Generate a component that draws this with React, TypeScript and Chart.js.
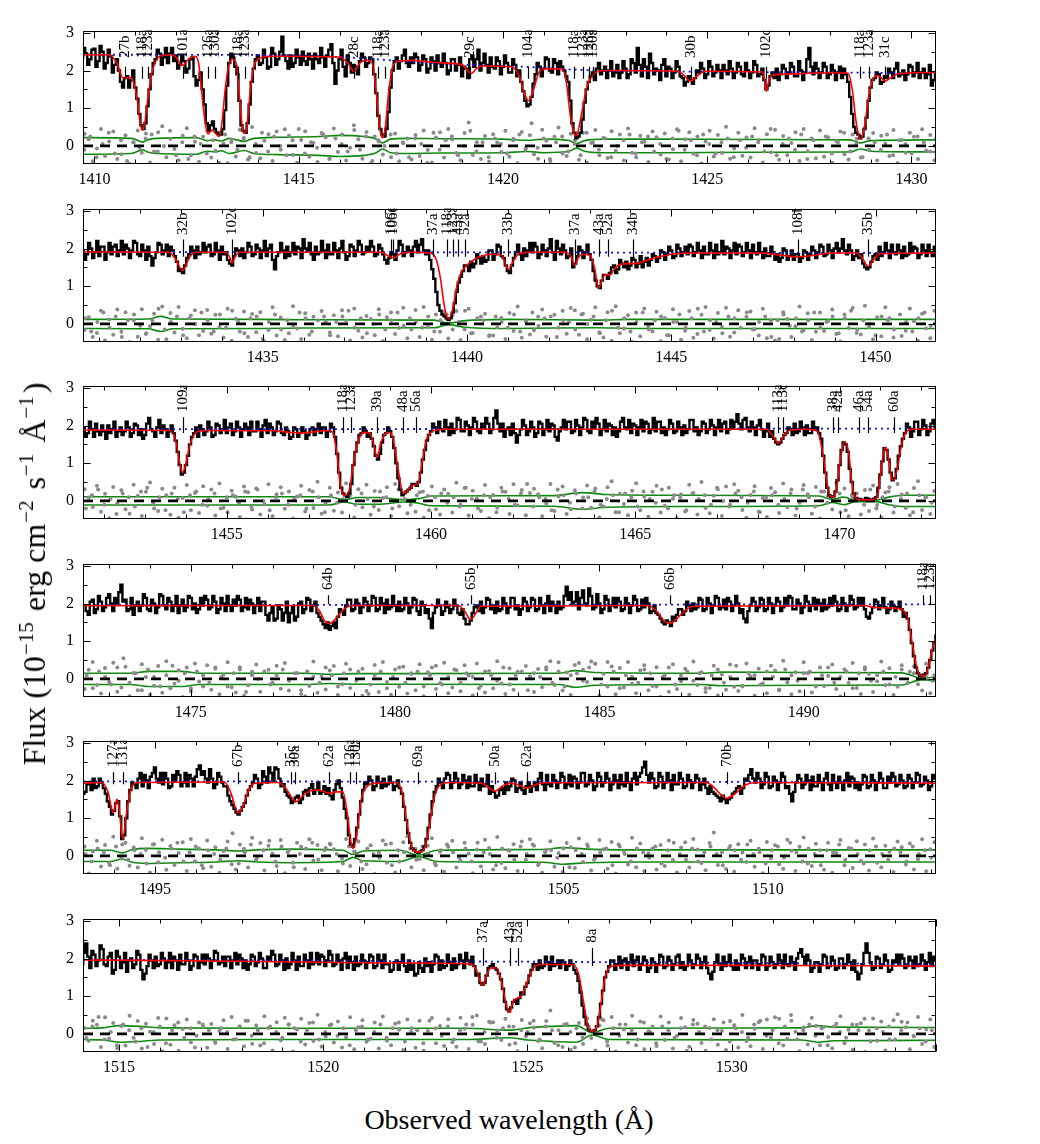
import React, { useEffect, useRef } from "react";
import { Chart, registerables } from "chart.js";
Chart.register(...registerables);

const FAMILY = "'Liberation Serif', 'Times New Roman', serif";
Chart.defaults.font.family = FAMILY;

// ---------- axes / ranges ----------
const PANEL_MIN = [1409.72, 1430.6, 1451.48, 1472.36, 1493.24, 1514.12];
const PANEL_SPAN = 20.88;
const X_TICKS = [
  [1410, 1415, 1420, 1425, 1430],
  [1435, 1440, 1445, 1450],
  [1455, 1460, 1465, 1470],
  [1475, 1480, 1485, 1490],
  [1495, 1500, 1505, 1510],
  [1515, 1520, 1525, 1530],
];
const Y_MIN = -0.48;
const Y_MAX = 3.06;
const Y_TICKS = [0, 1, 2, 3];

// ---------- observed flux: bins at start + 0.1*i ("flux") and start + 0.05 + 0.1*i ("half") ----------
const FLUX_START = [1409.7, 1430.6, 1451.5, 1472.4, 1493.2, 1514.1];
const FLUX_STEP = 0.1;

const flux1 = [2.35,
  2.45, 2.30, 2.58, 2.25, 2.50, 2.20, 2.38, 2.15, 2.00, 1.55,
  1.85, 1.75, 1.55, 0.85, 0.45, 1.05, 1.90, 2.30, 2.45, 2.35,
  2.20, 2.60, 2.40, 2.15, 2.25, 2.05, 2.35, 1.60, 1.95, 1.10,
  0.40, 0.65, 0.35, 0.30, 0.95, 2.20, 2.35, 1.90, 0.55, 0.35,
  1.10, 2.05, 2.40, 2.20, 2.35, 2.10, 2.45, 2.30, 2.90, 2.25,
  2.40, 2.20, 2.35, 2.50, 2.15, 2.30, 2.45, 2.20, 2.35, 2.40,
  2.70, 1.65, 2.30, 2.10, 2.40, 1.95, 2.10, 2.25, 2.35, 2.20,
  2.30, 1.40, 0.45, 0.25, 0.90, 2.00, 2.35, 2.25, 2.55, 2.10,
  2.20, 2.35, 2.15, 2.30, 2.05, 2.25, 2.40, 2.10, 2.20, 2.00,
  2.30, 2.15, 1.85, 2.05, 2.30, 2.10, 2.55, 2.20, 2.15, 2.35,
  2.05, 2.25, 2.10, 2.20, 1.95, 2.15, 2.00, 1.45, 1.05, 1.30,
  1.90, 2.10, 2.05, 2.30, 1.95, 2.20, 2.25, 2.00, 1.70, 0.60,
  0.20, 0.35, 1.15, 1.70, 1.95, 2.05, 1.90, 2.10, 2.00, 1.85,
  2.15, 1.95, 2.05, 1.90, 2.20, 2.60, 1.85, 2.10, 2.45, 1.90,
  2.00, 2.15, 1.85, 2.05, 1.95, 2.10, 1.80, 1.70, 1.75, 1.80,
  1.95, 2.05, 1.90, 2.10, 1.95, 2.00, 2.15, 1.90, 2.05, 1.95,
  2.10, 1.85, 2.00, 1.95, 2.15, 1.90, 1.75, 1.60, 1.95, 2.05,
  1.90, 2.05, 1.95, 2.10, 1.85, 2.00, 1.95, 2.60, 1.90, 2.05,
  1.95, 2.10, 1.90, 2.00, 1.95, 1.80, 1.90, 1.30, 0.50, 0.30,
  0.25, 0.75, 1.55, 1.80, 1.90, 1.70, 1.80, 1.95, 2.05, 1.85,
  2.00, 1.90, 2.10, 1.95, 1.80, 2.05, 1.90, 1.60, 1.95];
const half1 = [2.60,
  2.15, 2.55, 2.10, 2.65, 2.05, 2.55, 1.95, 2.30, 1.70, 1.80,
  1.55, 2.00, 1.25, 0.55, 0.60, 1.50, 2.20, 2.55, 2.15, 2.60,
  2.45, 2.25, 2.05, 2.40, 1.95, 2.30, 1.85, 1.75, 1.50, 0.60,
  0.55, 0.45, 0.30, 0.45, 1.60, 2.45, 2.10, 1.20, 0.40, 0.60,
  1.70, 2.30, 2.15, 2.55, 2.05, 2.60, 2.15, 2.50, 2.40, 2.05,
  2.10, 2.55, 2.15, 2.25, 2.45, 2.05, 2.30, 2.60, 2.10, 2.55,
  2.20, 2.00, 2.55, 1.85, 2.20, 2.15, 1.90, 2.45, 2.10, 2.35,
  1.90, 0.80, 0.30, 0.45, 1.55, 2.25, 2.05, 2.40, 2.20, 2.35,
  2.45, 2.00, 2.40, 1.95, 2.35, 2.00, 2.20, 2.45, 1.90, 2.30,
  2.00, 2.35, 2.10, 1.80, 2.40, 2.30, 2.00, 2.45, 1.95, 2.10,
  2.35, 1.90, 2.40, 1.95, 2.30, 1.85, 1.70, 1.20, 1.10, 1.65,
  2.20, 1.85, 2.35, 2.00, 2.30, 1.90, 2.10, 1.85, 1.20, 0.35,
  0.25, 0.70, 1.50, 1.85, 1.75, 2.20, 2.00, 1.80, 2.25, 1.95,
  1.80, 2.25, 1.80, 2.30, 1.95, 2.15, 2.30, 1.80, 2.20, 2.05,
  1.75, 2.30, 2.10, 1.80, 2.25, 1.85, 1.60, 1.85, 1.65, 2.00,
  2.20, 1.80, 2.25, 1.85, 2.15, 1.80, 2.00, 2.25, 1.80, 2.20,
  1.90, 2.20, 1.80, 2.25, 1.85, 2.05, 1.50, 1.85, 1.80, 1.75,
  2.15, 1.80, 2.20, 1.85, 2.25, 1.75, 2.30, 2.10, 2.20, 1.80,
  2.20, 1.80, 2.15, 1.75, 2.10, 2.05, 1.70, 0.85, 0.35, 0.20,
  0.45, 1.20, 1.75, 1.95, 1.65, 1.85, 2.05, 1.80, 2.20, 1.90,
  1.75, 2.15, 1.85, 2.20, 1.95, 1.80, 2.15, 1.75, 2.05];

const flux2 = [
  1.95, 1.85, 2.00, 1.90, 1.80, 2.05, 1.90, 1.85, 2.10, 1.95,
  1.85, 2.00, 1.95, 2.15, 1.80, 1.95, 2.05, 1.55, 1.90, 2.10,
  1.95, 1.80, 1.95, 1.65, 1.45, 1.55, 1.85, 1.95, 2.05, 1.90,
  1.90, 2.10, 1.85, 1.95, 2.05, 1.90, 1.60, 1.80, 1.95, 2.00,
  1.90, 2.05, 1.85, 2.00, 1.95, 1.80, 2.10, 1.45, 1.90, 1.95,
  2.05, 1.90, 1.85, 2.00, 2.25, 1.95, 1.85, 2.05, 1.90, 1.95,
  2.10, 1.85, 1.95, 2.00, 1.90, 1.80, 2.05, 1.95, 2.10, 1.90,
  1.95, 2.05, 1.85, 2.00, 1.70, 1.75, 1.85, 1.95, 2.10, 1.90,
  1.95, 2.05, 1.90, 2.25, 1.85, 1.70, 1.20, 0.50, 0.25, 0.15,
  0.15, 0.55, 1.10, 1.40, 1.55, 1.65, 1.60, 1.75, 1.80, 1.70,
  1.95, 1.85, 2.05, 1.75, 1.40, 1.55, 1.90, 1.85, 2.00, 1.95,
  1.90, 2.05, 1.85, 1.95, 2.00, 1.90, 2.20, 1.85, 1.95, 1.80,
  1.50, 1.80, 1.95, 1.90, 1.85, 1.40, 1.00, 1.15, 1.30, 1.35,
  1.55, 1.45, 1.60, 1.65, 1.55, 1.70, 1.60, 1.50, 1.75, 1.70,
  1.80, 1.75, 1.90, 1.85, 1.95, 1.80, 2.00, 1.90, 1.85, 2.05,
  1.90, 1.95, 2.05, 1.85, 1.95, 2.10, 1.90, 1.85, 2.00, 1.95,
  1.85, 2.05, 1.90, 1.95, 2.10, 1.85, 1.90, 2.00, 1.80, 1.90,
  1.85, 1.75, 1.95, 1.80, 1.70, 1.85, 1.75, 1.90, 1.85, 1.95,
  1.90, 2.05, 1.85, 1.95, 2.00, 1.90, 2.25, 1.85, 1.95, 1.80,
  1.75, 1.60, 1.45, 1.65, 1.85, 2.05, 1.90, 1.95, 2.10, 1.85,
  1.95, 2.05, 1.85, 1.90, 2.00, 1.85, 1.95, 2.10, 1.80, 1.90];
const half2 = [
  1.70, 2.15, 1.75, 2.20, 2.05, 1.70, 2.15, 2.05, 1.80, 2.20,
  2.10, 1.75, 2.20, 1.85, 2.10, 1.70, 1.80, 1.75, 2.15, 1.85,
  2.10, 2.05, 1.80, 1.40, 1.35, 1.75, 2.05, 1.75, 1.85, 2.15,
  2.05, 1.80, 2.15, 1.70, 1.85, 1.70, 1.55, 2.00, 1.80, 1.75,
  2.15, 1.80, 2.10, 1.75, 2.20, 2.00, 1.70, 1.80, 2.15, 1.75,
  1.80, 2.15, 2.05, 1.75, 2.00, 2.15, 1.70, 1.85, 2.20, 1.75,
  1.85, 2.15, 1.75, 2.20, 1.70, 2.10, 1.80, 2.20, 1.85, 2.05,
  2.20, 1.80, 2.10, 1.85, 1.60, 1.90, 1.70, 2.20, 1.80, 2.05,
  1.80, 2.20, 2.10, 1.95, 1.95, 1.45, 0.85, 0.35, 0.20, 0.10,
  0.30, 0.85, 1.25, 1.55, 1.40, 1.50, 1.85, 1.60, 1.65, 1.95,
  1.70, 2.10, 1.80, 1.55, 1.35, 1.75, 2.10, 1.70, 1.80, 2.15,
  2.15, 1.75, 2.10, 1.80, 2.25, 1.70, 2.00, 2.10, 1.75, 2.00,
  1.60, 2.05, 1.75, 2.10, 1.70, 1.15, 0.95, 1.30, 1.20, 1.50,
  1.35, 1.70, 1.50, 1.45, 1.75, 1.50, 1.80, 1.65, 1.55, 1.85,
  1.65, 1.95, 1.70, 2.05, 1.75, 2.10, 1.80, 2.05, 2.10, 1.80,
  2.15, 1.75, 1.85, 2.15, 1.75, 1.85, 2.20, 2.05, 1.75, 2.15,
  2.10, 1.80, 2.15, 1.75, 1.90, 2.15, 1.75, 1.80, 2.05, 1.70,
  1.65, 2.00, 1.70, 1.95, 1.85, 1.65, 1.95, 1.70, 2.05, 1.75,
  2.10, 1.80, 2.10, 1.75, 2.15, 2.00, 1.95, 2.10, 1.70, 1.95,
  1.85, 1.50, 1.50, 1.80, 1.70, 1.80, 2.15, 1.75, 1.90, 2.10,
  1.75, 1.80, 2.15, 2.05, 1.75, 2.10, 1.80, 1.90, 2.05, 1.75];

const flux3 = [
  1.95, 1.80, 1.90, 2.05, 1.75, 1.85, 2.00, 1.90, 1.70, 1.95,
  1.85, 1.95, 1.80, 2.00, 1.90, 1.75, 2.20, 1.85, 1.95, 1.80,
  1.90, 1.85, 1.80, 1.30, 0.70, 0.95, 1.50, 1.80, 1.70, 1.90,
  1.85, 1.95, 1.75, 2.00, 1.90, 1.80, 2.05, 1.85, 1.95, 1.90,
  1.95, 2.10, 1.85, 1.90, 2.00, 1.80, 1.95, 1.85, 2.05, 1.75,
  1.85, 1.70, 1.90, 1.80, 1.85, 1.75, 1.95, 1.90, 1.80, 1.95,
  1.85, 1.95, 1.25, 0.35, 0.15, 0.20, 0.95, 1.55, 1.80, 1.85,
  1.80, 1.45, 1.10, 1.55, 1.80, 1.85, 1.40, 0.60, 0.15, 0.25,
  0.35, 0.45, 0.50, 1.10, 1.60, 1.85, 1.95, 2.10, 1.85, 1.95,
  2.05, 1.90, 2.15, 1.85, 2.00, 1.95, 2.10, 1.80, 1.95, 2.05,
  1.90, 2.40, 1.85, 1.70, 1.95, 2.05, 1.55, 1.90, 2.00, 1.85,
  1.95, 1.80, 2.05, 1.90, 1.85, 2.00, 1.60, 1.95, 1.90, 2.10,
  1.85, 2.00, 1.95, 2.15, 1.80, 1.95, 2.05, 1.90, 1.85, 2.00,
  1.95, 1.85, 2.20, 1.90, 1.80, 2.00, 1.95, 1.85, 2.05, 1.90,
  1.85, 2.10, 1.95, 1.90, 2.05, 1.85, 1.95, 2.00, 1.90, 2.15,
  1.95, 1.85, 2.05, 1.90, 2.00, 1.95, 1.85, 2.10, 1.90, 1.95,
  2.30, 1.90, 2.20, 1.85, 1.95, 2.00, 1.90, 1.85, 1.70, 1.65,
  1.50, 1.65, 1.80, 1.90, 2.05, 1.85, 1.95, 2.00, 1.80, 1.90,
  1.80, 1.20, 0.35, 0.10, 0.25, 0.95, 1.55, 1.30, 0.50, 0.08,
  0.05, 0.03, 0.06, 0.04, 0.10, 0.70, 1.40, 1.10, 0.55, 0.85,
  1.45, 1.80, 1.95, 1.85, 2.10, 1.90, 2.00, 1.85, 2.15, 1.75];
const half3 = [
  1.70, 2.10, 1.70, 1.85, 2.00, 1.65, 1.80, 2.10, 1.85, 1.75,
  2.10, 1.70, 2.05, 1.75, 1.65, 2.05, 1.90, 1.70, 2.15, 2.00,
  1.70, 2.00, 1.60, 0.95, 0.75, 1.20, 1.70, 1.95, 2.00, 1.75,
  2.10, 1.70, 2.05, 1.80, 2.15, 1.95, 1.75, 2.10, 1.70, 2.05,
  1.75, 1.85, 2.10, 1.70, 2.15, 2.05, 1.75, 2.10, 1.80, 1.95,
  1.65, 1.95, 1.70, 1.95, 1.65, 1.90, 1.75, 2.05, 1.95, 1.70,
  2.05, 1.70, 0.75, 0.20, 0.10, 0.45, 1.30, 1.75, 1.95, 1.70,
  1.65, 1.20, 1.25, 1.75, 1.95, 1.70, 1.00, 0.30, 0.20, 0.30,
  0.45, 0.40, 0.75, 1.35, 1.75, 2.05, 1.80, 1.90, 2.15, 1.75,
  1.80, 2.20, 1.85, 2.10, 1.75, 2.20, 1.85, 2.05, 2.20, 1.80,
  2.20, 2.05, 2.05, 1.90, 1.75, 1.80, 1.75, 2.15, 1.75, 2.10,
  1.70, 2.10, 1.75, 2.15, 2.05, 1.70, 1.85, 2.15, 2.10, 1.80,
  2.15, 1.75, 2.20, 1.85, 2.10, 2.20, 1.75, 2.15, 2.05, 1.75,
  1.70, 2.10, 1.95, 2.15, 2.05, 1.75, 2.15, 2.10, 1.80, 2.20,
  2.10, 1.80, 1.75, 2.15, 1.80, 2.10, 1.75, 1.80, 2.15, 1.85,
  1.75, 2.10, 1.80, 2.15, 1.75, 2.15, 2.05, 1.80, 2.15, 2.10,
  2.05, 2.15, 1.95, 2.10, 1.75, 2.15, 1.70, 2.05, 1.85, 1.55,
  1.55, 1.75, 1.95, 1.75, 1.80, 2.10, 1.75, 1.80, 2.10, 1.95,
  1.65, 0.75, 0.15, 0.12, 0.55, 1.35, 1.50, 0.85, 0.20, 0.05,
  0.02, 0.08, 0.02, 0.06, 0.35, 1.05, 1.35, 0.75, 0.60, 1.20,
  1.65, 2.05, 1.70, 2.10, 1.75, 2.15, 1.75, 2.05, 1.95, 1.65];

const flux4 = [
  1.95, 1.70, 2.10, 1.85, 2.05, 1.90, 2.25, 1.80, 2.00, 2.50,
  2.10, 1.85, 1.70, 2.05, 1.95, 2.15, 1.80, 2.00, 1.90, 2.20,
  1.85, 2.05, 1.95, 1.75, 2.10, 1.90, 2.15, 2.00, 1.85, 1.95,
  2.10, 1.90, 2.05, 1.85, 2.00, 2.20, 1.80, 1.95, 2.10, 1.90,
  1.85, 2.00, 1.95, 1.80, 2.05, 1.55, 1.90, 1.60, 1.85, 1.75,
  1.50, 1.90, 1.65, 2.05, 1.85, 2.10, 1.95, 1.75, 1.55, 1.35,
  1.30, 1.50, 1.65, 1.80, 1.95, 2.10, 1.85, 2.00, 1.90, 2.05,
  1.95, 2.15, 1.85, 2.00, 2.10, 1.90, 1.95, 2.05, 1.85, 2.00,
  1.90, 2.10, 1.70, 1.95, 1.85, 1.35, 1.90, 1.95, 1.80, 1.90,
  1.85, 1.95, 1.70, 1.60, 1.45, 1.75, 1.95, 2.05, 1.90, 2.10,
  1.95, 2.05, 1.85, 2.00, 1.90, 2.15, 1.95, 1.85, 2.05, 1.90,
  2.10, 1.85, 1.95, 2.00, 1.80, 1.95, 2.05, 1.90, 2.45, 2.30,
  2.05, 1.85, 2.35, 1.95, 2.20, 1.90, 2.00, 1.85, 2.10, 1.95,
  1.90, 2.05, 1.85, 2.00, 1.95, 2.10, 1.85, 1.90, 2.00, 1.80,
  1.75, 1.60, 1.45, 1.50, 1.65, 1.70, 1.85, 1.80, 1.95, 2.00,
  1.90, 2.10, 1.85, 2.00, 1.95, 2.15, 1.90, 1.85, 2.05, 1.95,
  2.00, 1.85, 1.50, 1.95, 2.05, 1.90, 2.10, 1.85, 2.00, 1.95,
  2.05, 1.90, 1.95, 2.15, 1.85, 2.00, 1.90, 2.05, 1.95, 1.85,
  2.00, 2.10, 1.90, 1.95, 2.05, 1.85, 2.00, 1.95, 2.10, 1.90,
  1.95, 1.85, 1.60, 1.90, 2.05, 1.95, 1.90, 1.85, 1.95, 1.90,
  1.85, 1.75, 1.30, 0.60, 0.15, 0.10, 0.15, 0.50, 0.95, 1.30];
const half4 = [
  1.80, 2.05, 1.75, 2.20, 1.80, 2.15, 2.00, 2.15, 2.30, 2.05,
  1.80, 2.15, 1.95, 1.80, 2.25, 1.85, 2.10, 1.75, 2.25, 1.95,
  2.15, 1.80, 2.20, 1.95, 1.80, 2.20, 1.85, 1.75, 2.15, 2.20,
  1.85, 2.20, 1.75, 2.15, 1.80, 1.95, 2.10, 2.20, 1.80, 2.15,
  2.10, 1.75, 2.15, 2.05, 1.70, 1.75, 1.55, 1.95, 1.55, 2.05,
  1.75, 1.55, 2.00, 1.75, 2.15, 1.80, 2.05, 1.65, 1.45, 1.50,
  1.40, 1.35, 1.85, 1.70, 2.10, 1.80, 2.10, 1.75, 2.15, 1.80,
  2.20, 1.80, 2.15, 1.75, 1.85, 2.20, 1.80, 1.80, 2.15, 1.75,
  2.15, 1.80, 2.05, 1.75, 1.60, 1.75, 2.10, 1.70, 2.05, 1.75,
  2.10, 1.75, 1.85, 1.45, 1.55, 1.90, 1.80, 1.75, 2.15, 1.85,
  1.75, 1.80, 2.15, 1.75, 2.15, 1.85, 1.70, 2.15, 1.80, 2.15,
  1.80, 2.15, 1.75, 2.20, 2.05, 1.75, 1.85, 2.20, 2.10, 2.00,
  2.30, 2.15, 2.00, 2.40, 1.85, 2.25, 1.75, 2.20, 1.80, 2.15,
  2.15, 1.80, 2.15, 1.75, 2.20, 1.80, 2.10, 2.15, 1.75, 1.95,
  1.70, 1.50, 1.55, 1.40, 1.55, 1.85, 1.70, 2.05, 1.80, 1.85,
  2.15, 1.80, 2.15, 1.75, 2.20, 1.85, 2.10, 2.15, 1.80, 2.20,
  1.75, 1.60, 1.80, 2.15, 1.80, 2.15, 1.80, 2.15, 1.75, 2.15,
  1.80, 2.15, 2.20, 1.85, 2.10, 1.75, 2.20, 1.80, 2.15, 2.10,
  1.80, 1.85, 2.15, 2.20, 1.80, 2.15, 1.80, 2.20, 1.85, 2.15,
  2.15, 1.65, 1.75, 2.10, 1.85, 2.15, 1.75, 2.05, 1.80, 2.05,
  1.65, 1.60, 0.95, 0.30, 0.08, 0.12, 0.30, 0.75, 1.15, 1.45];

const flux5 = [
  1.85, 1.70, 1.95, 2.05, 1.85, 1.95, 1.65, 1.30, 1.20, 1.45,
  0.45, 1.00, 1.75, 1.90, 2.05, 1.85, 2.00, 2.10, 2.35, 1.95,
  1.90, 2.05, 1.85, 2.00, 2.15, 1.95, 1.85, 2.05, 2.10, 2.40,
  2.25, 1.95, 2.05, 1.90, 2.10, 1.85, 1.60, 1.35, 1.15, 1.20,
  1.40, 1.75, 1.95, 2.05, 1.90, 2.10, 2.35, 2.00, 2.30, 1.85,
  1.70, 1.55, 1.45, 1.60, 1.50, 1.75, 1.80, 1.65, 1.95, 1.70,
  1.65, 1.60, 1.75, 2.00, 1.55, 1.00, 0.30, 0.45, 1.10, 1.75,
  1.90, 2.00, 1.85, 1.95, 2.05, 1.90, 1.95, 1.85, 1.80, 1.30,
  0.60, 0.20, 0.10, 0.12, 0.25, 0.75, 1.45, 1.85, 1.95, 2.05,
  2.15, 1.95, 2.05, 1.90, 2.00, 2.10, 1.85, 1.95, 2.05, 1.90,
  1.65, 1.70, 1.60, 1.80, 1.95, 1.85, 2.00, 1.80, 1.75, 1.85,
  1.70, 1.95, 2.05, 1.90, 2.15, 1.85, 2.00, 1.95, 2.10, 1.90,
  1.85, 2.05, 1.95, 2.20, 1.90, 2.00, 1.85, 2.10, 1.95, 2.05,
  1.90, 2.00, 2.15, 1.85, 1.95, 2.05, 1.90, 2.20, 2.50, 1.95,
  2.05, 1.85, 2.10, 1.95, 2.00, 2.15, 1.90, 2.05, 1.85, 2.00,
  1.95, 2.05, 1.90, 1.80, 1.85, 1.65, 1.55, 1.60, 1.40, 1.55,
  1.70, 1.85, 1.80, 2.00, 2.30, 1.95, 2.05, 1.90, 2.10, 1.85,
  2.00, 1.95, 2.10, 1.85, 1.45, 1.95, 2.05, 1.90, 2.00, 2.10,
  1.85, 1.95, 2.05, 1.90, 2.15, 1.80, 1.95, 2.00, 1.85, 2.05,
  1.95, 1.90, 2.10, 1.85, 2.00, 1.95, 2.05, 1.80, 1.95, 2.10,
  1.90, 2.00, 1.85, 2.05, 1.95, 2.15, 1.90, 2.00, 1.85, 2.05];
const half5 = [
  1.65, 1.90, 1.75, 1.80, 2.05, 1.80, 1.45, 1.10, 1.40, 1.05,
  0.55, 1.45, 1.95, 1.80, 2.20, 2.15, 1.80, 2.20, 2.05, 2.20,
  2.20, 1.80, 2.15, 2.25, 1.85, 2.20, 2.15, 1.85, 2.30, 2.15,
  2.05, 2.30, 1.80, 2.20, 1.95, 1.85, 1.45, 1.25, 1.10, 1.30,
  1.60, 1.85, 2.15, 1.80, 2.25, 1.95, 2.20, 2.35, 2.05, 1.90,
  1.60, 1.40, 1.55, 1.40, 1.70, 1.60, 1.90, 1.75, 1.65, 1.85,
  1.80, 1.50, 1.90, 1.80, 1.25, 0.55, 0.25, 0.75, 1.45, 1.95,
  2.10, 1.75, 2.10, 1.80, 1.85, 2.10, 1.75, 2.00, 1.65, 0.95,
  0.35, 0.15, 0.08, 0.15, 0.45, 1.10, 1.70, 2.05, 1.80, 2.20,
  1.80, 2.20, 1.80, 2.15, 1.80, 1.85, 2.15, 1.75, 1.85, 2.15,
  1.85, 1.55, 1.75, 1.65, 1.75, 2.05, 1.70, 1.95, 1.65, 1.95,
  1.85, 1.75, 2.20, 1.75, 1.90, 2.15, 1.80, 2.20, 1.80, 2.15,
  2.10, 1.80, 2.20, 1.85, 2.15, 1.75, 2.20, 1.85, 2.20, 1.75,
  2.15, 1.80, 1.90, 2.20, 1.75, 2.20, 2.10, 2.35, 2.15, 2.20,
  1.80, 2.20, 1.80, 2.20, 1.75, 1.90, 2.20, 1.80, 2.15, 1.80,
  2.15, 1.75, 2.05, 1.65, 1.70, 1.60, 1.45, 1.50, 1.50, 1.65,
  1.80, 1.65, 2.05, 2.15, 2.05, 2.20, 1.80, 2.20, 1.80, 2.10,
  1.75, 2.20, 1.80, 1.65, 1.70, 2.15, 1.80, 2.15, 1.75, 1.85,
  2.15, 1.75, 2.20, 1.75, 1.95, 2.10, 1.75, 2.20, 2.10, 1.80,
  1.75, 2.15, 1.80, 2.15, 1.75, 2.20, 1.80, 2.10, 2.20, 1.85,
  2.15, 1.80, 2.15, 1.80, 2.20, 1.85, 2.10, 1.75, 2.15, 1.85];

const flux6 = [
  1.85, 2.40, 1.75, 2.10, 1.95, 2.25, 1.80, 2.15, 1.70, 2.05,
  1.90, 1.65, 2.00, 1.85, 2.10, 1.45, 1.80, 1.95, 2.05, 1.85,
  2.00, 1.90, 1.75, 1.95, 2.10, 1.85, 1.95, 1.80, 2.05, 1.90,
  1.85, 2.00, 1.95, 2.15, 1.90, 1.80, 2.05, 1.95, 1.85, 2.00,
  1.95, 1.85, 2.05, 1.90, 2.00, 1.75, 1.95, 2.10, 1.85, 1.95,
  2.00, 1.85, 1.95, 2.05, 1.80, 1.95, 2.15, 1.90, 1.85, 2.05,
  1.95, 2.10, 1.85, 1.95, 2.00, 1.75, 1.90, 2.05, 1.85, 1.95,
  1.90, 2.05, 1.80, 1.95, 2.10, 1.85, 1.70, 1.95, 1.90, 1.80,
  1.95, 1.85, 1.60, 1.75, 2.00, 1.90, 1.85, 2.05, 1.95, 1.80,
  1.90, 2.00, 1.85, 1.95, 2.15, 1.85, 1.80, 1.60, 1.30, 1.55,
  1.80, 1.75, 1.60, 1.20, 0.65, 0.70, 0.90, 0.95, 1.05, 1.35,
  1.70, 1.85, 1.95, 1.80, 1.90, 2.05, 1.85, 1.75, 1.90, 1.80,
  1.85, 1.60, 1.10, 0.45, 0.12, 0.07, 0.20, 0.80, 1.50, 1.80,
  1.95, 1.85, 1.75, 2.00, 1.90, 1.80, 2.05, 1.85, 1.95, 1.75,
  1.90, 1.85, 2.05, 1.80, 1.95, 1.85, 2.10, 1.90, 1.80, 1.95,
  1.85, 2.00, 1.90, 1.75, 1.45, 1.90, 1.85, 2.05, 1.90, 1.80,
  1.95, 1.85, 2.00, 1.90, 1.75, 1.95, 1.85, 2.05, 1.80, 1.90,
  1.85, 1.95, 2.10, 1.80, 1.90, 2.00, 2.25, 1.85, 1.95, 1.75,
  1.90, 1.85, 2.05, 1.80, 1.95, 1.75, 2.00, 1.85, 1.90, 1.95,
  1.45, 1.85, 2.40, 1.90, 1.75, 2.00, 1.85, 1.95, 1.70, 1.90,
  1.85, 2.00, 1.80, 1.95, 2.05, 1.85, 1.95, 1.90, 1.80, 1.95];
const half6 = [
  2.15, 2.05, 2.20, 1.80, 2.35, 1.85, 2.05, 1.60, 2.20, 1.75,
  2.15, 1.95, 1.75, 2.20, 1.70, 1.60, 2.10, 1.75, 1.80, 2.15,
  1.75, 2.15, 2.05, 1.70, 1.85, 2.15, 1.70, 2.10, 1.75, 2.10,
  2.10, 1.75, 2.20, 1.85, 2.05, 2.05, 1.75, 2.15, 2.10, 1.75,
  1.70, 2.10, 1.80, 2.15, 1.75, 2.05, 2.20, 1.80, 2.10, 1.70,
  1.75, 2.15, 1.70, 1.80, 2.10, 1.75, 1.85, 2.15, 2.10, 1.80,
  2.20, 1.80, 2.10, 1.70, 2.15, 2.05, 1.70, 1.80, 2.10, 1.75,
  2.10, 1.75, 2.10, 1.75, 1.85, 1.65, 1.90, 1.70, 2.10, 1.65,
  1.70, 1.55, 1.90, 1.65, 1.80, 1.65, 2.10, 1.70, 1.75, 2.10,
  1.70, 1.75, 2.10, 1.75, 1.95, 2.05, 1.55, 1.35, 1.35, 1.75,
  1.85, 1.70, 1.45, 0.85, 0.60, 0.85, 0.80, 1.10, 1.25, 1.55,
  1.85, 1.70, 1.75, 2.05, 1.70, 1.80, 1.95, 1.95, 1.70, 1.95,
  1.70, 1.40, 0.75, 0.25, 0.08, 0.10, 0.45, 1.15, 1.65, 1.95,
  1.70, 2.05, 1.95, 1.70, 2.10, 1.95, 1.70, 2.05, 1.65, 2.00,
  1.65, 2.10, 1.75, 2.05, 1.70, 2.05, 1.75, 1.70, 2.10, 1.75,
  2.10, 1.75, 2.05, 1.60, 1.65, 2.10, 1.70, 1.80, 2.10, 1.70,
  1.70, 2.10, 1.75, 2.05, 1.95, 1.70, 2.10, 1.70, 2.05, 1.75,
  2.10, 1.75, 1.85, 2.05, 1.70, 2.15, 2.05, 2.10, 1.65, 1.90,
  1.65, 2.10, 1.75, 2.05, 1.70, 2.00, 1.75, 2.10, 1.70, 1.65,
  1.60, 2.15, 2.15, 1.70, 2.05, 1.75, 2.10, 1.65, 1.95, 2.10,
  2.10, 1.75, 2.05, 1.75, 1.80, 2.10, 1.70, 2.15, 2.05, 1.75];

// ---------- fitted model (red), [wavelength, flux] ----------
const model1 = [[1409.72,2.42],[1410.35,2.42],[1410.55,2.2],[1410.7,1.8],[1410.85,1.82],[1410.95,1.7],[1411.05,1.2],[1411.12,0.6],[1411.17,0.42],[1411.23,0.6],[1411.3,1.2],[1411.4,1.9],[1411.5,2.25],[1411.65,2.4],[1411.9,2.42],[1412.0,2.35],[1412.15,2.13],[1412.3,2.3],[1412.45,2.38],[1412.55,2.2],[1412.62,1.5],[1412.7,0.7],[1412.78,0.32],[1412.88,0.42],[1412.95,0.35],[1413.05,0.25],[1413.12,0.6],[1413.2,1.5],[1413.28,2.1],[1413.38,2.3],[1413.48,2.15],[1413.55,1.3],[1413.62,0.5],[1413.67,0.33],[1413.73,0.5],[1413.8,1.3],[1413.88,2.0],[1414.0,2.3],[1414.3,2.38],[1416.0,2.36],[1416.2,2.2],[1416.35,1.97],[1416.5,2.2],[1416.65,2.28],[1416.8,2.2],[1416.9,1.4],[1416.98,0.5],[1417.05,0.22],[1417.12,0.5],[1417.2,1.4],[1417.3,2.1],[1417.45,2.25],[1417.8,2.27],[1418.0,2.25],[1418.5,2.2],[1419.0,2.15],[1419.1,2.05],[1419.22,1.92],[1419.35,2.05],[1419.5,2.12],[1420.2,2.1],[1420.4,1.85],[1420.52,1.4],[1420.63,1.2],[1420.75,1.5],[1420.88,1.95],[1421.05,2.05],[1421.45,2.03],[1421.55,1.7],[1421.65,0.8],[1421.75,0.3],[1421.8,0.27],[1421.88,0.6],[1421.95,1.0],[1422.05,1.55],[1422.15,1.8],[1422.3,1.97],[1422.5,2.0],[1424.3,1.98],[1424.45,1.85],[1424.6,1.72],[1424.75,1.85],[1424.95,1.98],[1426.35,1.96],[1426.41,1.7],[1426.45,1.45],[1426.5,1.7],[1426.57,1.87],[1426.8,1.9],[1428.0,1.94],[1428.45,1.93],[1428.55,1.5],[1428.65,0.6],[1428.75,0.18],[1428.85,0.5],[1428.95,1.3],[1429.05,1.75],[1429.15,1.86],[1429.25,1.82],[1429.35,1.72],[1429.48,1.8],[1429.7,1.92],[1430.6,1.95]];
const model2 = [[1430.6,1.91],[1432.7,1.9],[1432.85,1.75],[1433.04,1.42],[1433.2,1.75],[1433.35,1.9],[1434.1,1.9],[1434.2,1.75],[1434.25,1.62],[1434.32,1.78],[1434.45,1.9],[1437.9,1.9],[1438.05,1.82],[1438.2,1.75],[1438.35,1.85],[1438.55,1.9],[1439.1,1.88],[1439.25,1.7],[1439.35,1.2],[1439.45,0.45],[1439.55,0.13],[1439.65,0.4],[1439.75,1.0],[1439.85,1.35],[1439.95,1.5],[1440.1,1.65],[1440.3,1.78],[1440.6,1.85],[1440.85,1.82],[1440.95,1.55],[1441.02,1.45],[1441.1,1.6],[1441.25,1.85],[1441.5,1.9],[1442.4,1.9],[1442.55,1.78],[1442.64,1.55],[1442.72,1.75],[1442.85,1.85],[1443.0,1.83],[1443.12,1.5],[1443.22,0.95],[1443.3,1.15],[1443.38,1.3],[1443.5,1.3],[1443.6,1.45],[1443.7,1.55],[1443.9,1.6],[1444.1,1.6],[1444.3,1.65],[1444.6,1.75],[1445.0,1.85],[1445.5,1.88],[1447.2,1.88],[1447.7,1.82],[1448.1,1.78],[1448.5,1.82],[1448.9,1.88],[1449.55,1.88],[1449.7,1.7],[1449.82,1.53],[1449.95,1.7],[1450.1,1.86],[1451.5,1.88]];
const model3 = [[1451.48,1.88],[1453.6,1.87],[1453.75,1.6],[1453.85,1.0],[1453.92,0.75],[1454.0,1.0],[1454.1,1.5],[1454.25,1.82],[1454.5,1.87],[1456.2,1.86],[1456.5,1.82],[1456.8,1.8],[1457.1,1.83],[1457.5,1.87],[1457.6,1.8],[1457.7,1.2],[1457.78,0.4],[1457.88,0.15],[1458.0,0.3],[1458.1,1.0],[1458.22,1.6],[1458.35,1.82],[1458.5,1.8],[1458.6,1.5],[1458.68,1.15],[1458.76,1.5],[1458.88,1.78],[1458.98,1.82],[1459.08,1.6],[1459.2,0.8],[1459.32,0.2],[1459.45,0.3],[1459.58,0.42],[1459.68,0.45],[1459.78,1.0],[1459.88,1.6],[1460.0,1.82],[1460.3,1.9],[1468.2,1.9],[1468.35,1.75],[1468.5,1.53],[1468.65,1.75],[1468.8,1.88],[1469.2,1.9],[1469.45,1.85],[1469.6,1.2],[1469.72,0.3],[1469.82,0.1],[1469.92,0.3],[1470.02,1.1],[1470.12,1.57],[1470.22,1.3],[1470.3,0.5],[1470.38,0.1],[1470.5,0.03],[1470.8,0.03],[1470.92,0.1],[1471.0,0.7],[1471.08,1.3],[1471.13,1.42],[1471.2,1.1],[1471.27,0.6],[1471.32,0.55],[1471.42,0.9],[1471.52,1.5],[1471.65,1.85],[1471.8,1.9],[1472.36,1.9]];
const model4 = [[1472.36,1.94],[1478.0,1.95],[1478.15,1.8],[1478.3,1.5],[1478.4,1.47],[1478.55,1.6],[1478.75,1.85],[1478.95,1.95],[1481.55,1.95],[1481.7,1.8],[1481.85,1.57],[1481.98,1.75],[1482.1,1.93],[1486.2,1.95],[1486.4,1.8],[1486.6,1.52],[1486.75,1.48],[1486.9,1.6],[1487.1,1.82],[1487.3,1.93],[1491.5,1.95],[1491.7,1.9],[1492.2,1.88],[1492.4,1.85],[1492.55,1.6],[1492.65,1.0],[1492.75,0.4],[1492.85,0.1],[1492.95,0.07],[1493.05,0.3],[1493.15,0.8],[1493.24,1.1]];
const model5 = [[1493.24,1.93],[1493.7,1.95],[1493.85,1.7],[1493.98,1.15],[1494.07,1.5],[1494.12,1.3],[1494.21,0.45],[1494.3,1.1],[1494.42,1.8],[1494.6,1.95],[1496.7,1.96],[1496.85,1.7],[1497.0,1.2],[1497.05,1.14],[1497.15,1.3],[1497.3,1.75],[1497.45,1.93],[1498.0,1.95],[1498.2,1.8],[1498.35,1.55],[1498.46,1.44],[1498.6,1.58],[1498.8,1.72],[1499.0,1.75],[1499.15,1.7],[1499.3,1.66],[1499.45,1.7],[1499.6,1.7],[1499.7,1.2],[1499.8,0.35],[1499.85,0.2],[1499.93,0.5],[1500.05,1.5],[1500.2,1.85],[1500.4,1.93],[1500.9,1.95],[1501.05,1.7],[1501.18,0.8],[1501.3,0.2],[1501.45,0.1],[1501.6,0.2],[1501.72,0.8],[1501.85,1.6],[1502.0,1.9],[1502.2,1.95],[1503.0,1.93],[1503.15,1.82],[1503.33,1.72],[1503.5,1.85],[1503.7,1.93],[1503.85,1.9],[1504.1,1.8],[1504.3,1.88],[1504.5,1.94],[1508.5,1.95],[1508.7,1.8],[1508.9,1.58],[1509.0,1.53],[1509.2,1.65],[1509.45,1.88],[1509.7,1.95],[1514.12,1.93]];
const model6 = [[1514.12,1.96],[1518,1.93],[1522,1.88],[1523.6,1.86],[1523.75,1.7],[1523.9,1.29],[1524.0,1.55],[1524.1,1.75],[1524.25,1.75],[1524.38,1.3],[1524.5,0.7],[1524.56,0.57],[1524.65,0.85],[1524.75,0.95],[1524.85,1.0],[1525.0,1.4],[1525.15,1.75],[1525.3,1.84],[1526.1,1.84],[1526.25,1.6],[1526.38,0.8],[1526.48,0.2],[1526.58,0.07],[1526.7,0.2],[1526.8,0.8],[1526.9,1.5],[1527.0,1.75],[1527.2,1.82],[1530,1.82],[1535.0,1.8]];

// ---------- continuum (blue dotted) ----------
const cont1 = [[1409.72,2.42],[1414.5,2.41],[1415.5,2.38],[1416.5,2.33],[1417.5,2.25],[1418.5,2.18],[1419.5,2.14],[1420.5,2.1],[1422.3,2.0],[1425,1.97],[1428,1.95],[1430.6,1.93]];
const cont2 = [[1430.6,1.91],[1440,1.9],[1451.48,1.88]];
const cont3 = [[1451.48,1.9],[1472.36,1.92]];
const cont4 = [[1472.36,1.96],[1493.24,1.98]];
const cont5 = [[1493.24,1.98],[1514.12,1.96]];
const cont6 = [[1514.12,1.97],[1526,1.91],[1535,1.85]];

// ---------- 1-sigma error (green, +/-) ----------
const err1 = [[1409.72,0.22],[1410.9,0.2],[1411.05,0.15],[1411.17,0.1],[1411.3,0.16],[1411.5,0.2],[1412.5,0.22],[1412.75,0.14],[1412.95,0.16],[1413.1,0.13],[1413.3,0.2],[1413.67,0.12],[1413.9,0.2],[1414.5,0.23],[1415.5,0.25],[1416.0,0.28],[1416.6,0.25],[1416.9,0.18],[1417.05,0.08],[1417.25,0.18],[1417.6,0.2],[1418.5,0.19],[1420.0,0.18],[1420.6,0.15],[1421.0,0.18],[1421.6,0.15],[1421.8,0.06],[1422.0,0.14],[1422.5,0.18],[1424.0,0.18],[1426.0,0.17],[1428.5,0.16],[1428.75,0.08],[1429.0,0.14],[1430.6,0.16]];
const err2 = [[1430.6,0.12],[1432.2,0.13],[1432.5,0.2],[1432.8,0.13],[1435,0.12],[1436,0.11],[1439.2,0.1],[1439.55,0.02],[1439.9,0.08],[1441,0.12],[1443.2,0.1],[1444,0.12],[1447,0.12],[1451.48,0.12]];
const err3 = [[1451.48,0.11],[1457.5,0.11],[1457.88,0.03],[1458.2,0.09],[1458.7,0.09],[1459.32,0.03],[1459.7,0.06],[1460.0,0.13],[1463.0,0.14],[1463.7,0.22],[1464.3,0.17],[1466,0.15],[1469.5,0.13],[1469.82,0.04],[1470.1,0.1],[1470.4,0.02],[1470.9,0.02],[1471.2,0.1],[1471.6,0.15],[1472.36,0.15]];
const err4 = [[1472.36,0.15],[1473.5,0.15],[1474.0,0.2],[1474.8,0.2],[1475.2,0.15],[1477.8,0.15],[1478.4,0.12],[1479,0.14],[1484.0,0.15],[1484.4,0.22],[1484.9,0.17],[1487.5,0.15],[1488.0,0.18],[1490,0.17],[1492.4,0.16],[1492.9,0.02],[1493.24,0.05]];
const err5 = [[1493.24,0.15],[1493.9,0.15],[1494.2,0.08],[1494.45,0.17],[1494.8,0.2],[1495.6,0.18],[1496.5,0.16],[1497.05,0.13],[1497.5,0.16],[1498.3,0.18],[1499.6,0.15],[1499.85,0.04],[1500.1,0.13],[1501.0,0.15],[1501.45,0.02],[1501.9,0.15],[1504.5,0.17],[1505.0,0.22],[1505.6,0.18],[1507,0.16],[1514.12,0.16]];
const err6 = [[1514.12,0.15],[1514.6,0.16],[1515.0,0.22],[1515.5,0.2],[1516.0,0.16],[1519,0.15],[1523.5,0.15],[1524.56,0.1],[1525.0,0.16],[1525.6,0.2],[1526.2,0.22],[1526.58,0.03],[1527.0,0.15],[1531.7,0.16],[1532.1,0.22],[1532.5,0.18],[1535.0,0.17]];

// ---------- residuals (grey dots): set A step 0.15 A, set B step 0.1 A ----------
const RESID_START = [1409.75, 1430.65, 1451.55, 1472.45, 1493.3, 1514.2];
const RESID_STEP = 0.15;
const resid1 = [-0.10,0.25,-0.30,0.05,0.35,-0.20,0.15,-0.40,0.10,-0.05,0.20,0.30,-0.15,0.00,0.40,-0.25,0.10,-0.35,0.25,0.05,-0.20,0.15,-0.45,0.30,0.10,-0.10,0.20,-0.30,0.05,0.35,-0.15,0.25,0.00,-0.25,0.15,0.45,-0.20,0.10,-0.05,0.30,-0.35,0.20,0.05,-0.15,0.55,-0.10,0.25,-0.40,0.15,0.00,0.30,-0.20,0.10,-0.30,0.20,0.05,-0.45,0.35,-0.10,0.15,0.25,-0.25,0.00,0.40,-0.15,0.10,-0.30,0.20,0.05,-0.20,0.15,0.30,-0.10,0.60,-0.05,0.20,-0.35,0.10,0.25,-0.15,0.05,-0.25,0.35,0.10,-0.10,0.20,-0.30,0.00,0.15,0.30,-0.20,0.10,0.25,-0.15,0.05,-0.35,0.20,0.40,-0.10,0.15,-0.25,0.30,0.05,-0.20,0.10,0.20,-0.30,0.15,-0.05,0.25,0.10,-0.15,0.45,-0.25,0.05,0.20,-0.10,0.30,-0.35,0.15,0.00,0.25,-0.20,0.10,0.35,-0.15,0.05,-0.30,0.20,0.10,-0.10,0.30,-0.25,0.15,0.05,-0.20,0.25,0.10,-0.15,0.20];
const resid2 = [0.15,-0.20,0.05,0.30,-0.10,0.20,-0.35,0.10,0.25,-0.05,-0.25,0.10,0.40,-0.15,0.05,0.20,-0.30,0.15,0.00,0.30,0.10,-0.20,0.25,-0.10,0.35,0.05,-0.25,0.15,0.20,-0.40,0.05,0.25,-0.15,0.10,-0.05,0.30,0.15,-0.20,0.10,0.20,-0.30,0.05,0.20,0.35,-0.10,0.15,-0.25,0.00,0.25,-0.15,0.10,0.30,-0.05,0.15,0.05,-0.10,0.20,-0.20,0.10,0.25,-0.15,0.05,0.35,-0.25,0.15,0.10,-0.30,0.20,0.05,-0.10,0.25,-0.20,0.10,0.30,-0.05,0.15,0.20,-0.35,0.10,0.05,-0.15,0.25,0.00,0.20,-0.25,0.10,0.35,-0.10,0.15,-0.20,0.05,0.30,-0.15,0.10,0.20,-0.30,0.05,0.25,-0.10,0.15,0.40,-0.20,0.10,0.05,-0.25,0.20,0.15,-0.10,0.30,-0.15,0.05,0.20,-0.35,0.10,0.25,-0.05,0.15,-0.20,0.10,0.30,-0.10,0.05,0.20,-0.25,0.15,0.35,-0.15,0.10,0.00,-0.30,0.20,0.10,-0.15,0.25,0.05,-0.20,0.15,0.30,-0.05,0.10];
const resid3 = [-0.20,0.15,0.30,-0.10,0.05,-0.35,0.20,0.10,-0.15,0.25,0.35,-0.05,0.10,-0.25,0.20,0.05,-0.30,0.15,0.25,-0.10,0.05,0.20,-0.20,0.10,0.15,-0.05,0.25,-0.15,0.30,0.00,-0.25,0.10,0.20,-0.10,0.05,0.15,-0.20,0.25,0.10,-0.30,0.15,-0.05,0.05,0.10,-0.10,0.20,0.05,-0.15,0.25,0.10,-0.20,0.30,0.05,-0.10,0.15,0.25,-0.25,0.10,0.20,-0.05,0.10,-0.15,0.35,0.05,-0.20,0.15,0.10,-0.30,0.25,0.05,-0.10,0.20,0.45,-0.15,0.10,0.05,-0.25,0.30,0.15,-0.05,0.20,-0.20,0.10,0.25,-0.10,0.05,0.15,-0.30,0.20,0.10,-0.15,0.25,0.05,-0.05,0.30,-0.20,0.15,0.10,-0.25,0.20,0.05,0.15,-0.10,0.35,0.00,-0.15,0.20,0.10,-0.05,0.25,-0.30,0.10,0.15,-0.10,0.05,0.20,-0.20,0.30,0.10,-0.15,0.25,-0.05,0.10,0.20,-0.25,0.15,0.05,-0.10,0.30,-0.20,0.10,0.25,-0.15,0.05,0.20,-0.30,0.15,0.10,-0.05,0.20];
const resid4 = [0.10,-0.25,0.20,0.05,-0.15,0.30,0.55,-0.10,0.15,-0.30,0.25,0.05,-0.20,0.10,0.35,-0.05,0.15,-0.25,0.20,0.10,-0.10,0.30,0.05,-0.20,0.15,0.25,-0.35,0.10,0.00,0.20,-0.15,0.10,0.25,-0.05,0.15,-0.30,0.20,0.05,-0.10,0.30,0.10,-0.20,0.15,0.25,-0.05,-0.45,-0.40,0.10,0.20,-0.25,0.05,0.30,-0.10,0.15,0.20,-0.20,0.10,0.35,-0.15,0.05,0.25,-0.10,0.15,0.05,-0.25,0.20,0.10,-0.05,0.30,-0.15,0.10,0.20,-0.30,0.15,0.05,0.25,-0.10,0.20,-0.20,0.10,0.15,-0.05,0.30,0.40,-0.15,0.45,0.20,-0.25,0.10,0.05,-0.10,0.25,0.15,-0.20,0.05,0.30,-0.15,0.10,0.20,-0.05,0.15,-0.25,0.10,0.25,-0.10,0.05,0.35,-0.20,0.15,0.10,-0.15,0.20,0.05,-0.30,0.25,0.10,-0.05,0.15,0.20,-0.20,0.10,0.30,-0.10,0.05,0.20,-0.25,0.15,0.25,-0.05,0.10,0.20,-0.15,0.05,0.25,-0.10,0.15,0.10,0.05,-0.05,0.00];
const resid5 = [0.05,-0.15,0.20,0.10,-0.25,0.25,0.30,-0.10,0.15,0.05,-0.20,0.30,0.10,-0.05,0.20,0.35,-0.15,0.10,0.25,-0.25,0.15,0.05,-0.10,0.20,0.60,-0.20,0.10,0.30,-0.05,0.15,0.40,-0.15,0.25,0.10,-0.30,0.05,0.20,0.35,-0.10,0.15,0.30,0.05,-0.20,0.25,0.10,-0.15,0.20,0.05,-0.05,0.30,-0.25,0.15,0.10,0.20,-0.10,0.25,0.05,-0.20,0.15,0.30,0.10,-0.05,0.20,-0.15,0.35,0.10,0.05,-0.25,0.20,0.15,-0.10,0.25,0.05,0.30,-0.20,0.10,0.15,-0.05,0.20,-0.30,0.15,0.05,0.25,-0.10,0.10,0.20,-0.25,0.30,0.05,-0.15,0.20,0.10,-0.05,0.25,-0.20,0.15,0.35,0.05,-0.10,0.20,-0.15,0.10,0.25,0.05,-0.25,0.20,0.15,-0.10,0.30,0.05,0.10,-0.20,0.15,0.25,-0.05,0.35,0.10,-0.15,0.20,0.05,-0.25,0.15,0.10,0.30,-0.10,0.20,0.05,-0.20,0.15,0.25,0.05,-0.10,0.20,0.10,-0.15,0.25,0.05,0.15,-0.05,0.10];
const resid6 = [-0.10,0.20,0.45,-0.15,0.05,-0.30,0.25,0.10,-0.20,0.15,-0.35,0.05,0.20,-0.25,0.10,0.30,-0.10,0.15,-0.05,0.25,0.10,-0.20,0.15,0.05,-0.15,0.20,0.35,-0.05,0.10,-0.25,0.20,0.05,-0.10,0.25,0.15,-0.20,0.10,0.30,-0.15,0.05,0.25,-0.05,0.15,-0.30,0.10,0.20,-0.15,0.05,0.25,-0.10,0.15,0.30,-0.20,0.05,0.10,-0.25,0.35,0.15,-0.05,0.20,-0.15,0.10,0.25,0.45,-0.20,0.05,0.30,-0.10,0.15,0.20,-0.25,0.10,0.05,0.35,-0.15,0.20,0.10,-0.30,0.25,0.05,0.15,-0.10,0.20,0.05,0.40,-0.20,0.15,-0.05,0.25,0.10,-0.15,0.30,0.05,-0.25,0.20,0.10,-0.10,0.15,-0.45,0.25,0.05,0.20,-0.15,0.10,0.30,-0.20,0.15,0.05,-0.10,0.25,0.35,-0.05,0.10,-0.25,0.20,0.50,-0.15,0.10,0.25,-0.05,0.15,-0.30,0.20,0.05,-0.10,0.25,0.10,0.40,-0.20,0.15,0.05,0.20,-0.15,0.10,0.30,-0.05,0.15,-0.20,0.10,0.25];

const RESB_START = [1409.76, 1430.64, 1451.52, 1472.4, 1493.28, 1514.16];
const RESB_STEP = 0.1;
const resB1 = [
  0.32,0.18,-0.41,-0.07,0.45,-0.27,0.12,0.38,-0.35,-0.22,
  0.28,-0.48,0.09,0.41,-0.18,0.33,-0.44,-0.15,0.36,0.52,
  -0.30,0.19,-0.08,-0.38,0.27,0.47,-0.25,0.11,-0.42,0.24,
  0.40,-0.31,-0.13,0.35,0.06,-0.46,0.17,-0.28,0.43,0.21,
  -0.36,0.50,-0.19,-0.33,0.14,0.31,-0.40,0.38,-0.10,0.44,
  0.27,-0.24,-0.45,0.16,0.39,-0.29,0.08,-0.43,0.34,0.23,
  -0.32,0.46,-0.16,0.30,-0.39,-0.05,0.42,0.18,-0.34,0.37,
  -0.47,0.25,0.12,-0.23,0.48,-0.30,0.33,-0.41,0.07,0.20,
  -0.36,0.29,-0.27,0.41,-0.11,-0.44,0.22,0.36,-0.31,0.45,
  0.17,-0.19,-0.38,0.34,0.62,-0.24,0.10,-0.35,0.26,-0.42,
  0.31,0.09,-0.16,0.40,-0.29,0.19,-0.46,0.37,-0.06,0.28,
  -0.22,-0.34,0.43,0.14,-0.40,0.24,0.49,-0.20,-0.27,0.32,
  0.15,-0.37,0.35,-0.45,0.08,0.42,-0.25,0.21,-0.32,0.39,
  -0.13,0.30,-0.39,0.46,-0.18,-0.30,0.27,0.11,-0.43,0.38,
  0.23,-0.23,0.33,-0.36,-0.09,0.44,-0.41,0.18,0.36,-0.21,
  0.25,-0.47,0.12,0.40,-0.28,0.29,-0.19,0.51,-0.34,-0.07,
  0.35,-0.26,0.22,-0.31,0.47,0.16,-0.44,0.31,-0.17,0.43,
  -0.37,0.26,-0.24,0.08,0.36,-0.40,0.45,-0.14,0.20,-0.33,
  0.41,-0.29,0.23,-0.45,0.13,0.38,-0.22,-0.36,0.30,0.19,
  -0.31,0.48,-0.10,0.34,-0.39,0.27,0.06,-0.27,0.42,-0.46,
  0.16,-0.18,0.35,0.24,-0.35,0.44,-0.12,0.29,-0.38,0.21];
const resB2 = [
  -0.16,0.18,-0.35,-0.24,0.35,-0.44,0.12,-0.29,0.38,-0.21,
  0.31,-0.48,0.10,-0.34,0.39,-0.27,-0.06,0.27,-0.42,0.46,
  -0.41,0.29,-0.23,0.45,-0.13,-0.38,0.22,0.36,-0.30,-0.19,
  0.37,-0.26,0.24,-0.08,-0.36,0.40,-0.45,0.14,-0.20,0.33,
  -0.35,0.26,-0.22,0.31,-0.47,-0.16,0.44,-0.31,0.17,-0.43,
  -0.25,0.47,-0.12,-0.40,0.28,-0.29,0.19,-0.51,0.34,0.07,
  -0.23,0.23,-0.33,0.36,0.09,-0.44,0.41,-0.18,-0.36,0.21,
  0.13,-0.30,0.39,-0.46,0.18,0.30,-0.27,-0.11,0.43,-0.38,
  -0.15,0.37,-0.35,0.45,-0.08,-0.42,0.25,-0.21,0.32,-0.39,
  0.22,0.34,-0.43,-0.14,0.40,-0.24,-0.49,0.20,0.27,-0.32,
  -0.31,-0.09,0.16,-0.40,0.29,-0.19,0.46,-0.37,0.06,-0.28,
  -0.17,0.19,0.38,-0.34,-0.52,0.24,-0.10,0.35,-0.26,0.42,
  0.36,-0.29,0.27,-0.41,0.11,0.44,-0.22,-0.36,0.31,-0.45,
  0.47,-0.25,-0.12,0.23,-0.48,0.30,-0.33,0.41,-0.07,-0.20,
  0.32,-0.46,0.16,-0.30,0.39,0.05,-0.42,-0.18,0.34,-0.37,
  -0.27,0.24,0.45,-0.16,-0.39,0.29,-0.08,0.43,-0.34,-0.23,
  0.36,-0.50,0.19,0.33,-0.14,-0.31,0.40,-0.38,0.10,-0.44,
  -0.40,0.31,0.13,-0.35,-0.06,0.46,-0.17,0.28,-0.43,-0.21,
  0.30,-0.19,0.08,0.38,-0.27,-0.47,0.25,-0.11,0.42,-0.24,
  -0.28,0.48,-0.09,-0.41,0.18,-0.33,0.44,0.15,-0.36,-0.52,
  -0.32,-0.18,0.41,0.07,-0.45,0.27,-0.12,-0.38,0.35,0.22];
const resB3 = [
  0.31,0.09,-0.16,0.40,-0.29,0.19,-0.46,0.37,-0.06,0.28,
  -0.22,-0.34,0.43,0.14,-0.40,0.24,0.49,-0.20,-0.27,0.32,
  0.15,-0.37,0.35,-0.45,0.08,0.42,-0.25,0.21,-0.32,0.39,
  -0.13,0.30,-0.39,0.46,-0.18,-0.30,0.27,0.11,-0.43,0.38,
  0.23,-0.23,0.33,-0.36,-0.09,0.44,-0.41,0.18,0.36,-0.21,
  0.25,-0.47,0.12,0.40,-0.28,0.29,-0.19,0.51,-0.34,-0.07,
  0.35,-0.26,0.22,-0.31,0.47,0.16,-0.44,0.31,-0.17,0.43,
  -0.37,0.26,-0.24,0.08,0.36,-0.40,0.45,-0.14,0.20,-0.33,
  0.41,-0.29,0.23,-0.45,0.13,0.38,-0.22,-0.36,0.30,0.19,
  -0.31,0.48,-0.10,0.34,-0.39,0.27,0.06,-0.27,0.42,-0.46,
  0.16,-0.18,0.35,0.24,-0.35,0.44,-0.12,0.29,-0.38,0.21,
  0.32,0.18,-0.41,-0.07,0.45,-0.27,0.12,0.38,-0.35,-0.22,
  0.28,-0.48,0.09,0.41,-0.18,0.33,-0.44,-0.15,0.36,0.52,
  -0.30,0.19,-0.08,-0.38,0.27,0.47,-0.25,0.11,-0.42,0.24,
  0.40,-0.31,-0.13,0.35,0.06,-0.46,0.17,-0.28,0.43,0.21,
  -0.36,0.50,-0.19,-0.33,0.14,0.31,-0.40,0.38,-0.10,0.44,
  0.27,-0.24,-0.45,0.16,0.39,-0.29,0.08,-0.43,0.34,0.23,
  -0.32,0.46,-0.16,0.30,-0.39,-0.05,0.42,0.18,-0.34,0.37,
  -0.47,0.25,0.12,-0.23,0.48,-0.30,0.33,-0.41,0.07,0.20,
  -0.36,0.29,-0.27,0.41,-0.11,-0.44,0.22,0.36,-0.31,0.45,
  0.17,-0.19,-0.38,0.34,0.52,-0.24,0.10,-0.35,0.26,-0.42];
const resB4 = [
  -0.27,0.24,0.45,-0.16,-0.39,0.29,-0.08,0.43,-0.34,-0.23,
  0.32,-0.46,0.16,-0.30,0.39,0.05,-0.42,-0.18,0.34,-0.37,
  0.47,-0.25,-0.12,0.23,-0.48,0.30,-0.33,0.41,-0.07,-0.20,
  0.36,-0.29,0.27,-0.41,0.11,0.44,-0.22,-0.36,0.31,-0.45,
  -0.17,0.19,0.38,-0.34,-0.52,0.24,-0.10,0.35,-0.26,0.42,
  -0.31,-0.49,0.16,-0.40,-0.46,-0.19,0.46,-0.37,0.06,-0.28,
  0.22,0.34,-0.43,-0.14,0.40,-0.24,-0.49,0.20,0.27,-0.32,
  -0.15,0.37,-0.35,0.45,-0.08,-0.42,0.25,-0.21,0.32,-0.39,
  0.13,-0.30,0.39,-0.46,0.18,0.30,-0.27,-0.11,0.43,-0.38,
  -0.23,0.23,-0.33,0.36,0.09,-0.44,0.41,-0.18,-0.36,0.21,
  -0.25,0.47,-0.12,-0.40,0.28,-0.29,0.19,-0.51,0.34,0.07,
  -0.35,0.26,-0.22,0.31,0.47,-0.16,0.44,-0.31,0.17,-0.43,
  0.37,0.42,0.24,-0.08,0.46,0.40,-0.45,0.14,-0.20,0.33,
  -0.41,0.29,-0.23,0.45,-0.13,-0.38,0.22,0.36,-0.30,-0.19,
  0.31,-0.48,0.10,-0.34,0.39,-0.27,-0.06,0.27,-0.42,0.46,
  -0.16,0.18,-0.35,-0.24,0.35,-0.44,0.12,-0.29,0.38,-0.21,
  -0.32,-0.18,0.41,0.07,-0.45,0.27,-0.12,-0.38,0.35,0.22,
  -0.28,0.48,-0.09,-0.41,0.18,-0.33,0.44,0.15,-0.36,-0.52,
  0.30,-0.19,0.08,0.38,-0.27,-0.47,0.25,-0.11,0.42,-0.24,
  -0.40,0.31,0.13,-0.35,-0.06,0.46,-0.17,0.28,-0.43,-0.21,
  0.36,-0.50,0.19,0.33,-0.14,-0.31,0.40,-0.38,0.10,-0.44];
const resB5 = [
  0.25,-0.47,0.12,0.40,-0.28,0.29,-0.19,0.51,-0.34,-0.07,
  0.35,-0.26,0.22,-0.31,0.47,0.16,-0.44,0.31,-0.17,0.43,
  -0.37,0.26,-0.24,0.08,0.36,-0.40,0.45,-0.14,0.20,-0.33,
  0.41,-0.29,0.23,-0.45,0.13,0.38,-0.22,-0.36,0.30,0.19,
  -0.31,0.48,-0.10,0.34,-0.39,0.27,0.06,-0.27,0.42,-0.46,
  0.16,-0.18,0.35,0.24,-0.35,0.44,-0.12,0.29,-0.38,0.21,
  0.32,0.18,-0.41,-0.07,0.45,-0.27,0.12,0.38,-0.35,-0.22,
  0.28,-0.48,0.09,0.41,-0.18,0.33,-0.44,-0.15,0.36,0.52,
  -0.30,0.19,-0.08,-0.38,0.27,0.47,-0.25,0.11,-0.42,0.24,
  0.40,-0.31,-0.13,0.35,0.06,-0.46,0.17,-0.28,0.43,0.21,
  -0.36,0.50,-0.19,-0.33,0.14,0.31,-0.40,0.38,-0.10,0.44,
  0.27,-0.24,-0.45,0.16,0.39,-0.29,0.08,-0.43,0.34,0.23,
  -0.32,0.46,-0.16,0.30,-0.39,-0.05,0.42,0.18,-0.34,0.37,
  -0.47,0.25,0.12,-0.23,0.48,-0.30,0.33,-0.41,0.07,0.20,
  -0.36,0.29,-0.27,0.41,-0.11,-0.44,0.22,0.36,-0.31,0.45,
  0.17,-0.19,-0.38,0.34,0.62,-0.24,0.10,-0.35,0.26,-0.42,
  0.31,0.09,-0.16,0.40,-0.29,0.19,-0.46,0.37,-0.06,0.28,
  -0.22,-0.34,0.43,0.14,-0.40,0.24,0.49,-0.20,-0.27,0.32,
  0.15,-0.37,0.35,-0.45,0.08,0.42,-0.25,0.21,-0.32,0.39,
  -0.13,0.30,-0.39,0.46,-0.18,-0.30,0.27,0.11,-0.43,0.38,
  0.23,-0.23,0.33,-0.36,-0.09,0.44,-0.41,0.18,0.36,-0.21];
const resB6 = [
  0.16,-0.18,0.35,0.24,-0.35,0.44,-0.12,0.29,-0.38,0.21,
  -0.31,0.48,-0.10,0.34,-0.39,0.27,0.06,-0.27,0.42,-0.46,
  0.41,-0.29,0.23,-0.45,0.13,0.38,-0.22,-0.36,0.30,0.19,
  -0.37,0.26,-0.24,0.08,0.36,-0.40,0.45,-0.14,0.20,-0.33,
  0.35,-0.26,0.22,-0.31,0.47,0.16,-0.44,0.31,-0.17,0.43,
  0.25,-0.47,0.12,0.40,-0.28,0.29,-0.19,0.51,-0.34,-0.07,
  0.23,-0.23,0.33,-0.36,-0.09,0.44,-0.41,0.18,0.36,-0.21,
  -0.13,0.30,-0.39,0.46,-0.18,-0.30,0.27,0.11,-0.43,0.38,
  0.15,-0.37,0.35,-0.45,0.08,0.42,-0.25,0.21,-0.32,0.39,
  -0.22,-0.34,0.43,0.14,-0.40,0.24,0.49,-0.20,-0.27,0.32,
  0.31,0.09,-0.16,0.40,-0.29,0.19,-0.46,0.37,-0.06,0.28,
  0.17,-0.19,-0.38,0.34,0.62,-0.24,0.10,-0.35,0.26,-0.42,
  -0.36,0.29,-0.27,0.41,-0.11,-0.44,0.22,0.36,-0.31,0.45,
  -0.47,0.25,0.12,-0.23,0.48,-0.30,0.33,-0.41,0.07,0.20,
  -0.32,0.46,-0.16,0.30,-0.39,-0.05,0.42,0.18,-0.34,0.37,
  0.27,-0.24,-0.45,0.16,0.39,-0.29,0.08,-0.43,0.34,0.23,
  -0.36,0.50,-0.19,-0.33,0.14,0.31,-0.40,0.38,-0.10,0.44,
  0.40,-0.31,-0.13,0.35,0.06,-0.46,0.17,-0.28,0.43,0.21,
  -0.30,0.19,-0.08,-0.38,0.27,0.47,-0.25,0.11,-0.42,0.24,
  0.28,-0.48,0.09,0.41,-0.18,0.33,-0.44,-0.15,0.36,0.52,
  0.32,0.18,-0.41,-0.07,0.45,-0.27,0.12,0.38,-0.35,-0.22];

// ---------- line identifications ----------
const labels1 = [[1410.75,"27b"],[1411.17,"118a"],[1411.32,"123a"],[1412.17,"101a"],[1412.78,"126a"],[1412.95,"130a"],[1413.52,"118a"],[1413.69,"123a"],[1416.35,"28c"],[1416.94,"118a"],[1417.11,"123a"],[1419.2,"29c"],[1420.62,"104a"],[1421.73,"118a"],[1421.95,"123a"],[1422.1,"126a"],[1422.2,"130a"],[1424.6,"30b"],[1426.45,"102c"],[1428.75,"118a"],[1428.97,"123a"],[1429.34,"31c"]];
const labels2 = [[1433.04,"32b"],[1434.25,"102c"],[1438.15,"106c"],[1438.2,"106e"],[1439.16,"37a"],[1439.51,"118a"],[1439.65,"123a"],[1439.79,"43a"],[1439.96,"52a"],[1441.0,"33b"],[1442.64,"37a"],[1443.24,"43a"],[1443.45,"52a"],[1444.07,"34b"],[1448.1,"108b"],[1449.81,"35b"]];
const labels3 = [[1453.92,"109a"],[1457.84,"118a"],[1458.05,"123a"],[1458.68,"39a"],[1459.32,"48a"],[1459.62,"56a"],[1468.49,"113a"],[1468.62,"113c"],[1469.83,"38a"],[1469.97,"42a"],[1470.48,"46a"],[1470.69,"54a"],[1471.32,"60a"]];
const labels4 = [[1478.35,"64b"],[1481.85,"65b"],[1486.73,"66b"],[1492.93,"118a"],[1493.1,"123a"]];
const labels5 = [[1493.98,"127a"],[1494.21,"131a"],[1497.03,"67b"],[1498.32,"35c"],[1498.43,"30a"],[1499.27,"62a"],[1499.78,"126a"],[1499.92,"130a"],[1501.45,"69a"],[1503.33,"50a"],[1504.1,"62a"],[1509.0,"70b"]];
const labels6 = [[1523.91,"37a"],[1524.56,"43a"],[1524.77,"52a"],[1526.58,"8a"]];
const LABEL_TEXT_Y = [2.33, 2.36, 2.36, 2.36, 2.36, 2.42];
const LABEL_TICK_Y = [[2.1, 1.78], [2.24, 1.78], [2.22, 1.8], [2.22, 1.98], [2.22, 1.9], [2.28, 1.8]];

const FLUX = [flux1, flux2, flux3, flux4, flux5, flux6];
const HALF = [half1, half2, half3, half4, half5, half6];
const MODEL = [model1, model2, model3, model4, model5, model6];
const CONT = [cont1, cont2, cont3, cont4, cont5, cont6];
const ERR = [err1, err2, err3, err4, err5, err6];
const RESID = [resid1, resid2, resid3, resid4, resid5, resid6];
const RESB = [resB1, resB2, resB3, resB4, resB5, resB6];
const LABELS = [labels1, labels2, labels3, labels4, labels5, labels6];

// ---------- layout ----------
const W = 1040;
const PLOT_LEFT = 83;
const PLOT_RIGHT = 936;
const PANEL_Y0 = 145;
const PANEL_PITCH = 177.5;
const UNIT_PX = 39.5;
const PLOT_H = Math.round((Y_MAX - Y_MIN) * UNIT_PX);
const PAD_TOP = 12;
const CANVAS_H = 190;

function Panel({ idx }: { idx: number }) {
  const ref = useRef<HTMLCanvasElement | null>(null);
  const areaTop = Math.round(PANEL_Y0 + PANEL_PITCH * idx - Y_MAX * UNIT_PX);

  useEffect(() => {
    const canvas = ref.current;
    if (!canvas) return;
    const min = PANEL_MIN[idx];
    const max = min + PANEL_SPAN;
    const pts = (arr: number[][]) => arr.map(([x, y]) => ({ x, y }));
    const flux: { x: number; y: number }[] = [];
    FLUX[idx].forEach((y, i) => {
      const x0 = FLUX_START[idx] + i * FLUX_STEP;
      flux.push({ x: x0, y });
      flux.push({ x: x0 + FLUX_STEP / 2, y: HALF[idx][i] });
    });
    const resid = RESID[idx].map((y, i) => ({ x: RESID_START[idx] + i * RESID_STEP, y }))
      .concat(RESB[idx].map((y, i) => ({ x: RESB_START[idx] + i * RESB_STEP, y })));
    const errUp = pts(ERR[idx]);
    const errLo = ERR[idx].map(([x, y]) => ({ x, y: -y }));
    const labels = LABELS[idx];
    const [tickTop, tickBot] = LABEL_TICK_Y[idx];
    const textY = LABEL_TEXT_Y[idx];

    const decor = {
      id: "decor",
      afterDatasetsDraw(chart: any) {
        const { ctx, chartArea: a, scales } = chart;
        const xs = scales.x, ys = scales.y;
        ctx.save();
        ctx.beginPath();
        ctx.rect(a.left, a.top, a.right - a.left, a.bottom - a.top);
        ctx.clip();
        ctx.strokeStyle = "#000";
        ctx.fillStyle = "#000";
        ctx.lineWidth = 1.2;
        for (const [w, t] of labels as any[]) {
          const px = Math.round(xs.getPixelForValue(w)) + 0.5;
          ctx.beginPath();
          ctx.moveTo(px, ys.getPixelForValue(tickTop));
          ctx.lineTo(px, ys.getPixelForValue(tickBot));
          ctx.stroke();
          ctx.save();
          ctx.translate(px, ys.getPixelForValue(textY));
          ctx.rotate(-Math.PI / 2);
          ctx.font = `15px ${FAMILY}`;
          ctx.textAlign = "left";
          ctx.textBaseline = "middle";
          ctx.fillText(t, 0, 0);
          ctx.restore();
        }
        ctx.restore();
      },
      afterDraw(chart: any) {
        const { ctx, chartArea: a, scales } = chart;
        const xs = scales.x, ys = scales.y;
        ctx.save();
        ctx.strokeStyle = "#000";
        ctx.lineWidth = 1;
        const L = Math.round(a.left) + 0.5, R = Math.round(a.right) - 0.5;
        const T = Math.round(a.top) + 0.5, B = Math.round(a.bottom) - 0.5;
        ctx.strokeRect(L, T, R - L, B - T);
        ctx.beginPath();
        for (let v = Math.ceil(xs.min); v <= Math.floor(xs.max); v++) {
          const len = v % 5 === 0 ? 7 : 4;
          const px = Math.round(xs.getPixelForValue(v)) + 0.5;
          ctx.moveTo(px, B); ctx.lineTo(px, B - len);
          ctx.moveTo(px, T); ctx.lineTo(px, T + len);
        }
        for (let k = Math.ceil(ys.min * 2); k <= Math.floor(ys.max * 2); k++) {
          const v = k / 2;
          const len = k % 2 === 0 ? 7 : 4;
          const py = Math.round(ys.getPixelForValue(v)) + 0.5;
          ctx.moveTo(L, py); ctx.lineTo(L + len, py);
          ctx.moveTo(R, py); ctx.lineTo(R - len, py);
        }
        ctx.stroke();
        ctx.restore();
      },
    };

    const chart = new Chart(canvas, {
      type: "line",
      data: {
        datasets: [
          { data: pts(MODEL[idx]), borderColor: "#ff0000", borderWidth: 1.6, pointRadius: 0, cubicInterpolationMode: "monotone", order: 0 },
          { data: pts(CONT[idx]), borderColor: "#1010ff", borderWidth: 1.8, borderDash: [2, 4], pointRadius: 0, cubicInterpolationMode: "monotone", order: 1 },
          { data: flux, borderColor: "#000000", borderWidth: 2.4, pointRadius: 0, stepped: "middle", order: 2 },
          { data: [{ x: min, y: 0 }, { x: max, y: 0 }], borderColor: "#000000", borderWidth: 2.6, borderDash: [10, 7], pointRadius: 0, order: 3 },
          { type: "scatter", data: resid, showLine: false, pointRadius: 2, pointHoverRadius: 2, pointBorderWidth: 0, pointBackgroundColor: "#8a8a8a", borderColor: "#8a8a8a", backgroundColor: "#8a8a8a", order: 4 },
          { data: errUp, borderColor: "#118811", borderWidth: 1.6, pointRadius: 0, cubicInterpolationMode: "monotone", order: 5 },
          { data: errLo, borderColor: "#118811", borderWidth: 1.6, pointRadius: 0, cubicInterpolationMode: "monotone", order: 5 },
        ] as any,
      },
      options: {
        animation: false,
        responsive: false,
        devicePixelRatio: 1,
        events: [],
        layout: { padding: { top: PAD_TOP, left: 0, right: W - PLOT_RIGHT, bottom: 0 }, autoPadding: false } as any,
        plugins: { legend: { display: false }, tooltip: { enabled: false } },
        scales: {
          x: {
            type: "linear",
            min,
            max,
            grid: { display: false, drawTicks: false },
            border: { display: false },
            afterBuildTicks: (axis: any) => { axis.ticks = X_TICKS[idx].map((v) => ({ value: v })); },
            afterFit: (axis: any) => { axis.height = CANVAS_H - PAD_TOP - PLOT_H; },
            ticks: { color: "#000", font: { size: 16, family: FAMILY }, padding: 6, maxRotation: 0, autoSkip: false, callback: (v: any) => String(v) },
          },
          y: {
            type: "linear",
            min: Y_MIN,
            max: Y_MAX,
            grid: { display: false, drawTicks: false },
            border: { display: false },
            afterBuildTicks: (axis: any) => { axis.ticks = Y_TICKS.map((v) => ({ value: v })); },
            afterFit: (axis: any) => { axis.width = PLOT_LEFT; },
            ticks: { color: "#000", font: { size: 16, family: FAMILY }, padding: 9, callback: (v: any) => String(v) },
          },
        },
      } as any,
      plugins: [decor as any],
    });
    return () => chart.destroy();
  }, [idx]);

  return (
    <canvas
      ref={ref}
      width={W}
      height={CANVAS_H}
      style={{ position: "absolute", left: 0, top: areaTop - PAD_TOP, width: W, height: CANVAS_H }}
    />
  );
}

const supStyle: React.CSSProperties = { fontSize: 21, verticalAlign: "0.55em", lineHeight: 0, margin: "0 3px 0 1px" };

export default function App() {
  return (
    <div style={{ position: "absolute", left: 0, top: 0, width: W, height: 1144, background: "#fff", overflow: "hidden", fontFamily: FAMILY }}>
      {[0, 1, 2, 3, 4, 5].map((i) => (
        <Panel key={i} idx={i} />
      ))}
      <div
        style={{
          position: "absolute", left: 34, top: 574, transform: "translate(-50%, -50%) rotate(-90deg)",
          whiteSpace: "nowrap", fontSize: 32, lineHeight: 1, color: "#000",
        }}
      >
        Flux (10<sup style={supStyle}>−15</sup> erg cm<sup style={supStyle}>−2</sup> s<sup style={supStyle}>−1</sup> Å<sup style={supStyle}>−1</sup>)
      </div>
      <div
        style={{
          position: "absolute", left: 509, top: 1120, transform: "translate(-50%, -50%)",
          whiteSpace: "nowrap", fontSize: 28, lineHeight: 1, color: "#000",
        }}
      >
        Observed wavelength (Å)
      </div>
    </div>
  );
}
